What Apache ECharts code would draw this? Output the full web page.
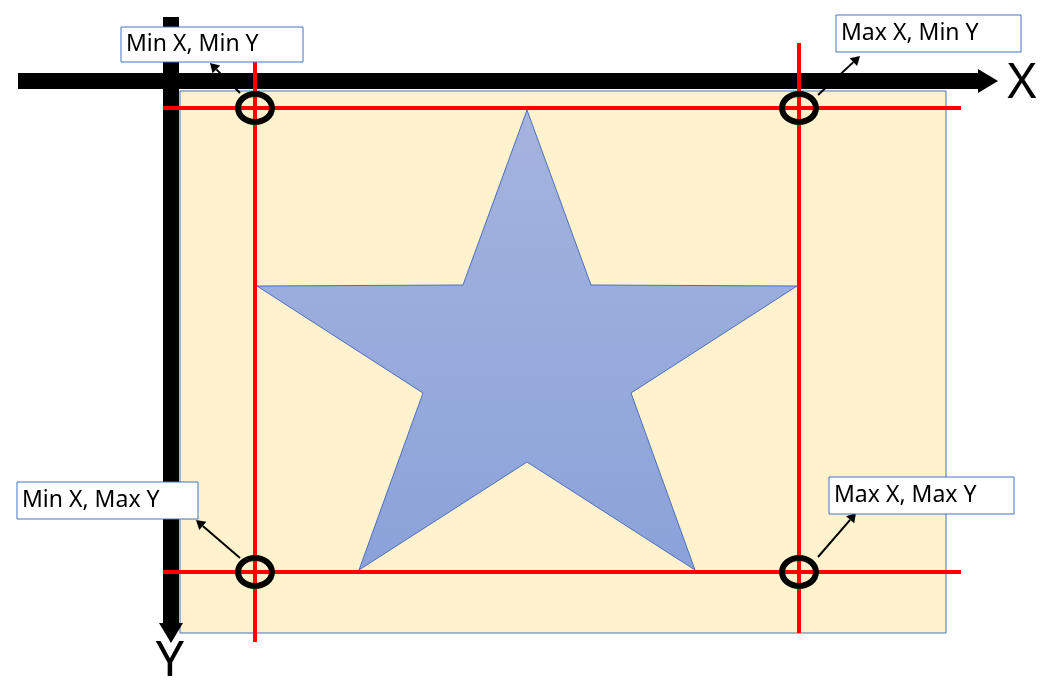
<!DOCTYPE html>
<html>
<head>
<meta charset="utf-8">
<script src="https://cdn.jsdelivr.net/npm/echarts@6/dist/echarts.min.js"></script>
<style>html,body{margin:0;padding:0;background:#fff}#main{width:1059px;height:694px}</style>
</head>
<body>
<div id="main"></div>
<script>
// picture space: x 0..1059 to the right, y 0..694 downward
var page = [[180, 91, 946, 633]]
var star = [[527,110],[591,285],[797,286],[631,393],[695,570],[527,462],[359,570],[423,393],[257,286],[463,285]]
var redLines = [[163,108,961,108],[163,572,961,572],[255,62,255,642],[799,43,799,633]]
var corners = [[255,108],[799,108],[255,572],[799,572]]
var axisBars = [[171,17,171,643],[18,81,998,81]]
var axisNames = [['X',1022,84],['Y',170,662]]
var boxes = [['Min X, Min Y',121,27,303,62],['Max X, Min Y',836,15,1021,52],
             ['Min X, Max Y',17,482,198,519],['Max X, Max Y',829,477,1014,514]]
var pointers = [[240,93,210,63],[818,95,860,56],[240,558,196,520],[818,557,856,513]]

var myChart = echarts.init(document.getElementById('main'))

function arrowShape(api, d, w, head, color) {
    var a = api.coord([d[0], d[1]]), b = api.coord([d[2], d[3]])
    var dx = b[0] - a[0], dy = b[1] - a[1], len = Math.sqrt(dx*dx + dy*dy)
    var ux = dx/len, uy = dy/len
    var bx = b[0] - ux*head, by = b[1] - uy*head
    return {type: 'group', children: [
        {type: 'line', shape: {x1: a[0], y1: a[1], x2: bx, y2: by}, style: {stroke: color, lineWidth: w}},
        {type: 'polygon', shape: {points: [[b[0], b[1]], [bx - uy*head*0.6, by + ux*head*0.6], [bx + uy*head*0.6, by - ux*head*0.6]]},
         style: {fill: color}}
    ]}
}

option = {
    animation: false,
    grid: {left: 0, right: 0, top: 0, bottom: 0},
    xAxis: {type: 'value', min: 0, max: 1059, show: false},
    yAxis: {type: 'value', min: 0, max: 694, inverse: true, show: false},
    series: [
        {
            type: 'custom', data: page,
            renderItem: function (params, api) {
                var a = api.coord([api.value(0), api.value(1)]), b = api.coord([api.value(2), api.value(3)])
                return {type: 'rect', shape: {x: a[0], y: a[1], width: b[0]-a[0], height: b[1]-a[1]},
                        style: {fill: '#fff2cc', stroke: '#4472c4', lineWidth: 1}}
            }
        },
        {
            type: 'custom', data: [0],
            renderItem: function (params, api) {
                var pts = star.map(function (p) { return api.coord(p) })
                return {type: 'polygon', shape: {points: pts},
                        style: {fill: new echarts.graphic.LinearGradient(0, 0, 0, 1, [
                            {offset: 0, color: '#a5b4de'}, {offset: 1, color: '#8ba2d9'}]),
                            stroke: '#4a6fbf', lineWidth: 1}}
            }
        },
        {
            type: 'custom', data: axisBars,
            renderItem: function (params, api) {
                return arrowShape(api, axisBars[params.dataIndex], 16, 20, '#000')
            }
        },
        {
            type: 'custom', data: redLines,
            renderItem: function (params, api) {
                var a = api.coord([api.value(0), api.value(1)]), b = api.coord([api.value(2), api.value(3)])
                return {type: 'line', shape: {x1: a[0], y1: a[1], x2: b[0], y2: b[1]},
                        style: {stroke: '#ff0000', lineWidth: 4}}
            }
        },
        {
            type: 'custom', data: corners,
            renderItem: function (params, api) {
                var c = api.coord([api.value(0), api.value(1)])
                return {type: 'ellipse', shape: {cx: c[0], cy: c[1], rx: 17, ry: 14},
                        style: {fill: 'none', stroke: '#000', lineWidth: 6}}
            }
        },
        {
            type: 'custom', data: pointers,
            renderItem: function (params, api) {
                return arrowShape(api, pointers[params.dataIndex], 2, 9, '#000')
            }
        },
        {
            type: 'custom', data: axisNames.map(function (d) { return [d[1], d[2]] }),
            renderItem: function (params, api) {
                var d = axisNames[params.dataIndex]
                var c = api.coord([d[1], d[2]])
                return {type: 'text', x: c[0], y: c[1],
                        style: {text: d[0], fill: '#000', font: '50px "Noto Sans"', align: 'center', verticalAlign: 'middle'}}
            }
        },
        {
            type: 'custom', data: boxes.map(function (d) { return d.slice(1) }),
            renderItem: function (params, api) {
                var d = boxes[params.dataIndex]
                var a = api.coord([d[1], d[2]]), b = api.coord([d[3], d[4]])
                return {type: 'group', children: [
                    {type: 'rect', shape: {x: a[0], y: a[1], width: b[0]-a[0], height: b[1]-a[1]},
                     style: {fill: '#fff', stroke: '#4472c4', lineWidth: 1}},
                    {type: 'text', x: a[0] + 5, y: (a[1]+b[1])/2,
                     style: {text: d[0], fill: '#000', font: '23px "Noto Sans"', verticalAlign: 'middle'}}
                ]}
            }
        }
    ]
}
myChart.setOption(option)
</script>
</body>
</html>
